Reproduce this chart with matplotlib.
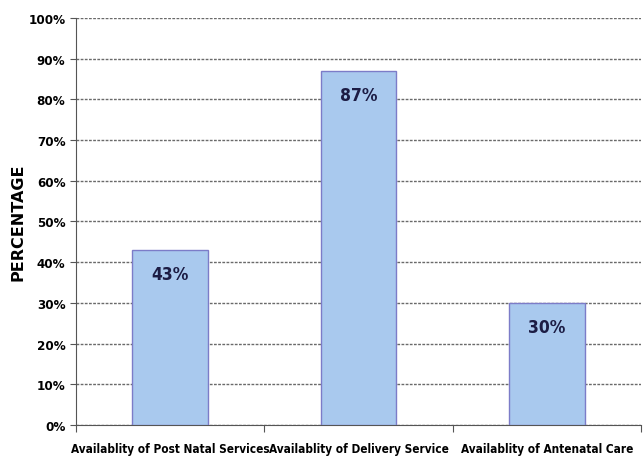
import matplotlib.pyplot as plt
from matplotlib.ticker import FixedLocator, NullFormatter

categories = ['Availablity of Post Natal Services', 'Availablity of Delivery Service',
              'Availablity of Antenatal Care']
values = [43, 87, 30]
y_ticks = list(range(0, 101, 10))

plt.rcParams['font.family'] = ['DejaVu Sans']
plt.rcParams['font.stretch'] = 'condensed'

fig = plt.figure(figsize=(6.43, 4.60), dpi=100)
ax = fig.add_axes([0.118, 0.074, 0.879, 0.885])

x = list(range(len(categories)))
ax.bar(x, values, width=0.4, color='#a9c9ee', edgecolor='#7c7cc8', linewidth=1.0, zorder=3)

for xi, v in zip(x, values):
    ax.text(xi, v - 6, f'{v}%', ha='center', va='center', fontsize=12.5, fontweight='bold',
            color='#1c1c44', zorder=4)

ax.set_xlim(-0.5, 2.5)
ax.set_ylim(0, 100)
ax.set_yticks(y_ticks)
ax.set_yticklabels([f'{t}%' for t in y_ticks], fontsize=9.5, fontweight='bold')
ax.yaxis.grid(True, color='#6a6a6a', linewidth=1.0, linestyle=(0, (2, 1)), zorder=0)

ax.xaxis.set_major_locator(FixedLocator([-0.5, 0.5, 1.5, 2.5]))
ax.xaxis.set_major_formatter(NullFormatter())
ax.xaxis.set_minor_locator(FixedLocator(x))
ax.set_xticklabels(categories, minor=True, fontsize=8.5, fontweight='bold')
ax.tick_params(axis='x', which='minor', length=0, pad=12)
ax.tick_params(axis='x', which='major', length=5, color='#555555')
ax.tick_params(axis='y', length=4, color='#555555')

for s in ['top', 'right']:
    ax.spines[s].set_visible(False)
for s in ['left', 'bottom']:
    ax.spines[s].set_color('#555555')

ax.set_ylabel('PERCENTAGE', fontsize=11.5, fontweight='bold', fontstretch='normal', labelpad=2)

fig.savefig('out.png', dpi=100)
